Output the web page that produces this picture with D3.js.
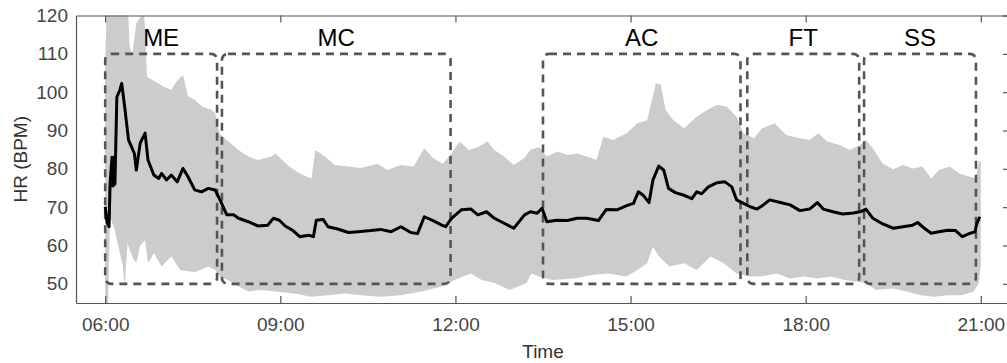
<!DOCTYPE html>
<html>
<head>
<meta charset="utf-8">
<script src="https://cdn.jsdelivr.net/npm/d3@7"></script>
<style>
  body { margin: 0; background: #fff; }
  text { font-family: "Liberation Sans", Arial, Helvetica, sans-serif; }
</style>
</head>
<body>
<svg id="chart" width="1007" height="363"></svg>
<script>
// mean heart rate over the day
var meanTime = ["06:00","06:02","06:04","06:05","06:07","06:08","06:09","06:10","06:12","06:15","06:17","06:20","06:24","06:27","06:30","06:32","06:36","06:41","06:44","06:50","06:55","06:58","07:03","07:08","07:14","07:20","07:25","07:32","07:39","07:46","07:53","07:58","08:05","08:12","08:17","08:27","08:37","08:47","08:53","08:59","09:05","09:13","09:20","09:29","09:34","09:37","09:44","09:49","09:59","10:10","10:20","10:33","10:43","10:54","11:04","11:14","11:21","11:28","11:37","11:46","11:50","11:56","12:06","12:16","12:23","12:32","12:40","12:50","13:00","13:11","13:17","13:24","13:29","13:34","13:44","13:55","14:05","14:15","14:27","14:35","14:46","14:56","15:03","15:08","15:13","15:19","15:23","15:29","15:34","15:39","15:46","15:55","16:03","16:08","16:13","16:20","16:29","16:37","16:44","16:49","16:56","17:03","17:10","17:15","17:23","17:34","17:44","17:54","18:04","18:12","18:18","18:28","18:38","18:49","18:56","19:02","19:09","19:18","19:30","19:40","19:50","19:55","20:02","20:09","20:17","20:26","20:34","20:41","20:48","20:54","20:56","20:59"];
var meanHR = [70.1,66,64.9,76,83,75.5,83,76,98.8,100.5,102.3,96.2,87.5,85.8,84,79.7,86.7,89.3,82.3,78.4,77.5,78.8,77.1,78.4,76.6,80.1,78,74.5,74,74.9,74.5,71.9,68,68,67.1,66.2,65.1,65.3,67.1,66.6,65.1,63.9,62.3,62.7,62.3,66.6,66.8,64.9,64.3,63.4,63.6,63.9,64.2,63.6,64.9,63.4,63.1,67.5,66.5,65.3,64.9,67.1,69.3,69.5,68,68.8,67.1,65.8,64.5,68,68.8,68.4,69.7,66.2,66.6,66.5,67.1,67.1,66.5,69.4,69.3,70.4,71,74,73.1,71.2,77.1,80.7,79.7,74.9,73.8,73.1,72.2,74,73.5,75.3,76.4,76.6,75.3,71.9,71,70.1,69.5,70.3,71.9,71.2,70.6,69.1,69.5,71.2,69.5,68.8,68.2,68.5,68.8,69.5,67.1,65.8,64.5,64.9,65.3,66,64.5,63.2,63.6,64,63.9,62.3,63.1,63.6,65.8,67.5];

// spread band (upper and lower edge)
var upperTime = ["06:00","06:02","06:23","06:25","06:28","06:32","06:40","06:43","06:50","07:00","07:08","07:14","07:20","07:25","07:32","07:40","07:49","07:53","07:58","08:05","08:17","08:27","08:37","08:51","08:55","09:09","09:20","09:32","09:36","09:46","09:56","10:10","10:23","10:40","10:50","11:04","11:17","11:28","11:37","11:47","11:56","12:04","12:14","12:23","12:33","12:40","12:50","13:00","13:11","13:17","13:26","13:34","13:45","13:55","14:05","14:15","14:25","14:32","14:42","14:56","15:07","15:17","15:26","15:31","15:36","15:44","15:55","16:08","16:19","16:29","16:39","16:49","16:56","17:07","17:15","17:23","17:28","17:40","17:54","18:04","18:13","18:22","18:35","18:45","18:56","19:02","19:09","19:19","19:30","19:40","19:50","20:00","20:09","20:17","20:28","20:38","20:48","20:55","20:58","21:00"];
var upperHR = [108,125,125,112,110,118,121,104,103,101.4,100.6,103,104.5,99,98,96.2,95.4,94.5,89,87.5,84.9,83.2,82.3,83.2,84,80.6,78.8,77.5,84.9,83.2,81,80.6,80.2,81.3,79.7,81,80.6,85.4,82.8,81.3,84,87.1,84.9,85.7,87.1,84.9,83.2,81,82.8,84.9,85.7,83.2,84.5,83.6,84,83.2,82.3,88.4,87.5,89.3,91.9,92.7,102.3,102,95.4,92.7,90.6,93.6,95.4,96.7,96.2,93.6,89.3,88,90.6,91.4,91.9,88.8,88,87.5,89.3,87.1,86.2,84.9,86.2,87.5,85.4,81.4,79.9,81,80.1,80.6,77.5,79.7,80.6,78.8,78,77.5,81.9,82];
var lowerTime = ["06:00","06:03","06:05","06:10","06:12","06:18","06:20","06:23","06:28","06:32","06:36","06:41","06:44","06:50","06:58","07:08","07:17","07:32","07:46","07:53","07:58","08:06","08:17","08:27","08:40","08:55","09:14","09:32","09:49","10:06","10:23","10:43","11:04","11:25","11:46","11:59","12:16","12:27","12:40","12:56","13:13","13:18","13:26","13:40","14:02","14:20","14:37","14:56","15:07","15:17","15:23","15:29","15:40","15:55","16:08","16:22","16:36","16:49","17:03","17:15","17:30","17:44","17:58","18:12","18:26","18:40","18:51","19:02","19:12","19:30","19:44","19:58","20:12","20:26","20:40","20:53","20:58","21:00"];
var lowerHR = [44,44,67.5,64,61.4,55,49.3,60.5,57,55.4,60,61.4,55.4,58,54.5,57.2,53.6,53,54.5,53.6,51.9,51,49.3,48,48.4,48,47.5,46.6,47,47.5,47,46.6,47,48,49.3,51,52.7,51,50.2,48.4,50.2,52.7,51.9,51,51.4,52.3,52.7,51.9,53.6,55.4,59.7,57.2,54.5,55.4,53.6,57.1,55.4,52.7,51.9,52,52.7,51.4,51.9,51.4,51.9,51,50.6,50.2,48.4,48.8,48,47,46.6,47,47,48,50.2,55];

// activity phases
var phaseNames = ["ME", "MC", "AC", "FT", "SS"];
var phaseStart = ["06:00", "08:00", "13:30", "17:00", "19:00"];
var phaseEnd = ["07:55", "11:55", "16:53", "18:55", "20:55"];
var phaseLow = 50, phaseHigh = 110;

var xTicks = ["06:00", "09:00", "12:00", "15:00", "18:00", "21:00"];
var yTicks = [50, 60, 70, 80, 90, 100, 110, 120];

var parse = d3.timeParse("%H:%M");
var fmt = d3.timeFormat("%H:%M");

var plotLeft = 76, plotRight = 1010, plotTop = 15.5, plotBottom = 303;

var x = d3.scaleTime().domain([parse("05:30"), parse("21:30")]).range([plotLeft, plotRight]);
var y = d3.scaleLinear().domain([45, 120]).range([plotBottom, plotTop]);

var svg = d3.select("#chart");

svg.append("clipPath").attr("id", "plotclip")
  .append("rect").attr("x", plotLeft).attr("y", plotTop)
  .attr("width", plotRight - plotLeft).attr("height", plotBottom - plotTop);

var plot = svg.append("g").attr("clip-path", "url(#plotclip)");

// band: upper edge forward then lower edge back
var upperPts = upperTime.map(function (t, i) { return [x(parse(t)), y(upperHR[i])]; });
var lowerPts = lowerTime.map(function (t, i) { return [x(parse(t)), y(lowerHR[i])]; }).reverse();
plot.append("path")
  .attr("d", d3.line()(upperPts.concat(lowerPts)) + "Z")
  .attr("fill", "#cccccc")
  .attr("stroke", "none");

// dashed phase boxes
phaseNames.forEach(function (name, i) {
  var x0 = x(parse(phaseStart[i])), x1 = x(parse(phaseEnd[i]));
  plot.append("rect")
    .attr("x", x0).attr("y", y(phaseHigh))
    .attr("width", x1 - x0).attr("height", y(phaseLow) - y(phaseHigh))
    .attr("rx", 6).attr("ry", 6)
    .attr("fill", "none")
    .attr("stroke", "#555")
    .attr("stroke-width", 2.6)
    .attr("stroke-dasharray", "8,6");
  svg.append("text")
    .attr("x", (x0 + x1) / 2).attr("y", 46)
    .attr("text-anchor", "middle")
    .attr("font-size", 24)
    .attr("fill", "#000")
    .text(name);
});

// mean line
var line = d3.line()
  .x(function (d, i) { return x(parse(meanTime[i])); })
  .y(function (d) { return y(d); });
plot.append("path")
  .datum(meanHR)
  .attr("d", line)
  .attr("fill", "none")
  .attr("stroke", "#000")
  .attr("stroke-width", 3)
  .attr("stroke-linejoin", "round");

// axes frame
var axisColor = "#555";
var xAxis = svg.append("g").attr("transform", "translate(0," + plotBottom + ")")
  .call(d3.axisBottom(x).tickValues(xTicks.map(parse)).tickFormat(fmt).tickSizeInner(-7).tickSizeOuter(0).tickPadding(15));
var xTop = svg.append("g").attr("transform", "translate(0," + plotTop + ")")
  .call(d3.axisTop(x).tickValues(xTicks.map(parse)).tickFormat("").tickSizeInner(-7).tickSizeOuter(0));
var yAxis = svg.append("g").attr("transform", "translate(" + plotLeft + ",0)")
  .call(d3.axisLeft(y).tickValues(yTicks).tickSizeInner(0).tickSizeOuter(0).tickPadding(8));
var yRight = svg.append("g").attr("transform", "translate(" + plotRight + ",0)")
  .call(d3.axisRight(y).tickValues(yTicks).tickFormat("").tickSizeInner(-7).tickSizeOuter(0));

[xAxis, xTop, yAxis, yRight].forEach(function (g) {
  g.select(".domain").attr("stroke", axisColor).attr("stroke-width", 1.2);
  g.selectAll(".tick line").attr("stroke", axisColor).attr("stroke-width", 1.2);
  g.selectAll(".tick text").attr("fill", "#444").attr("font-size", 19)
    .attr("font-family", "Liberation Sans, Arial, sans-serif");
});

// axis titles
svg.append("text")
  .attr("x", (plotLeft + plotRight) / 2).attr("y", 358)
  .attr("text-anchor", "middle")
  .attr("font-size", 19)
  .attr("fill", "#333")
  .text("Time");
svg.append("text")
  .attr("transform", "translate(27," + ((plotTop + plotBottom) / 2) + ") rotate(-90)")
  .attr("text-anchor", "middle")
  .attr("font-size", 19)
  .attr("fill", "#333")
  .text("HR (BPM)");
</script>
</body>
</html>
